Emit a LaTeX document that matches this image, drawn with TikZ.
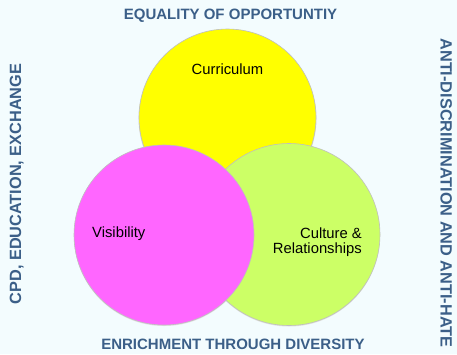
\documentclass[tikz,border=0pt]{standalone}
\usepackage{fontspec}
\setmainfont{Liberation Sans}
\definecolor{bgc}{HTML}{F3FCFE}
\definecolor{ttl}{HTML}{3B5F88}
\definecolor{cyel}{HTML}{FFFF00}
\definecolor{cmag}{HTML}{FF66FF}
\definecolor{cgrn}{HTML}{CCFF66}
\begin{document}
\begin{tikzpicture}[x=1pt,y=-1pt,
  circ/.style={draw=black!25,line width=0.6pt},
  heading/.style={inner sep=0pt,text=ttl,font=\fontsize{15}{15}\selectfont\bfseries},
  vheading/.style={heading,font=\fontsize{16.3}{16.3}\selectfont\bfseries},
  label/.style={inner sep=0pt,text=black,font=\fontsize{14.8}{15}\selectfont}]
\fill[bgc] (0,0) rectangle (457,354);
\useasboundingbox (0,0) rectangle (457,354);
\fill[black!12] (227.5,118.5) circle (89);
\fill[black!12] (289,235.5) circle (91);
\fill[black!12] (164,236) circle (90);
\draw[circ,fill=cyel] (227.5,117.5) circle (88.5);
\draw[circ,fill=cgrn] (289,234.5) circle (91);
\draw[circ,fill=cmag] (164,235) circle (90);
\node[label,anchor=base] (cur) at (227.5,74) {Curriculum};
\node[label,anchor=base west] (vis) at (92,237.7) {Visibility};
\node[label,anchor=base east] (cul1) at (362,238.3) {Culture \&};
\node[label,anchor=base east] (cul2) at (362,253.3) {Relationships};
\node[heading,anchor=base] (top) at (230.5,19) {EQUALITY OF OPPORTUNTIY};
\node[heading,anchor=base] (bot) at (233,349) {ENRICHMENT THROUGH DIVERSITY};
\node[vheading,anchor=base,rotate=90] (lft) at (21,184) {CPD, EDUCATION, EXCHANGE};
\node[vheading,anchor=base,rotate=-90] (rgt) at (440.5,193) {ANTI-DISCRIMINATION AND ANTI-HATE};
\end{tikzpicture}
\end{document}
